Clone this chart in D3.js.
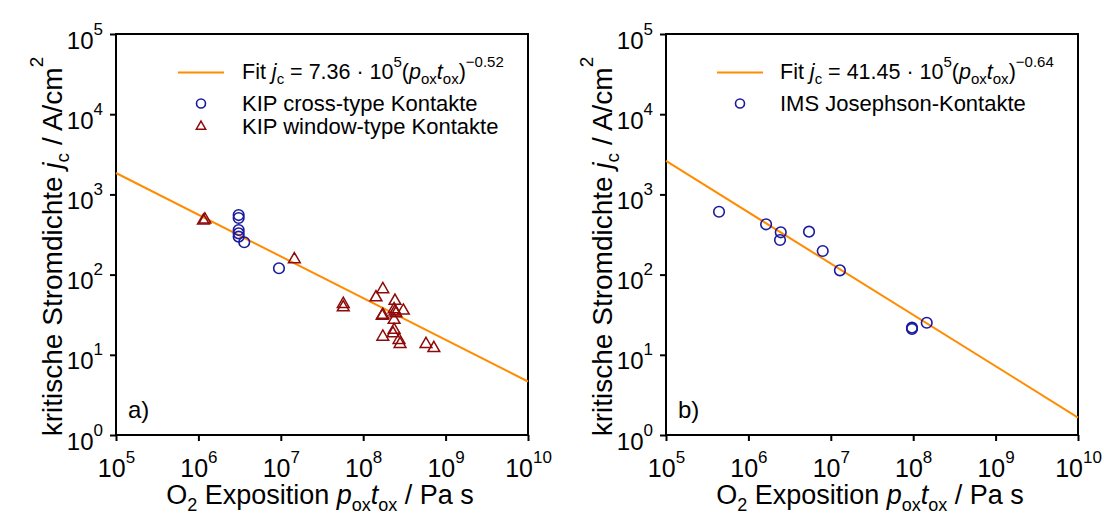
<!DOCTYPE html>
<html>
<head>
<meta charset="utf-8">
<script src="https://cdn.jsdelivr.net/npm/d3@7"></script>
<style>
  html, body { margin: 0; padding: 0; background: #fff; }
  svg { display: block; font-family: "Liberation Sans", Arial, sans-serif; }
</style>
</head>
<body>
<svg id="chart" width="1104" height="516"></svg>
<script>
// ---- data: O2 exposure (Pa s) vs. critical current density (A/cm^2) ----
const decadeTicks = [1e5, 1e6, 1e7, 1e8, 1e9, 1e10];
const yDecadeTicks = [1e0, 1e1, 1e2, 1e3, 1e4, 1e5];

// KIP cross-type junctions
const kipCrossX = [3.08e6, 3.08e6, 3.08e6, 3.08e6, 3.08e6, 3.6e6, 9.5e6];
const kipCrossY = [553, 508, 360, 327, 297, 253, 120];

// KIP window-type junctions
const kipWindowX = [1.15e6, 1.2e6, 1.46e7, 5.73e7, 5.73e7, 1.73e8, 1.43e8, 2.43e8, 3.07e8,
  1.73e8, 1.7e8, 2.37e8, 2.43e8, 2.5e8, 2.37e8, 1.73e8, 2.37e8, 2.3e8, 2.72e8, 2.8e8, 5.78e8, 7.2e8];
const kipWindowY = [470, 485, 155, 43, 39, 65.6, 52, 47, 35.5,
  31.4, 30.5, 36.9, 34.5, 32.9, 27.2, 16.8, 20.4, 18.5, 15.3, 13.6, 13.6, 12.1];

// IMS Josephson junctions
const imsX = [4.4e5, 1.64e6, 2.47e6, 2.42e6, 5.44e6, 7.98e6, 1.29e7, 9.67e7, 9.67e7, 1.46e8];
const imsY = [608, 424, 337, 270, 343, 197, 113, 21.8, 21.0, 25.1];

// power-law fits j_c = A * 10^5 * (p_ox t_ox)^k
const fitA = { prefactor: 7.36e5, exponent: -0.52 };
const fitB = { prefactor: 41.45e5, exponent: -0.64 };

// ---- drawing ----
const svg = d3.select("#chart");
const ORANGE = "#ff8c00", BLUE = "#1a1a9e", RED = "#8e0a0a";

// rich text: parts = [{t, i (italic), s: 'sub'|'sup'}]
function rich(textSel, parts, size, opts = {}) {
  const subSize = opts.subSize || size * 0.72;
  const supRaise = opts.supRaise != null ? opts.supRaise : size * 0.55;
  const subDrop = opts.subDrop != null ? opts.subDrop : size * 0.28;
  let cur = 0;
  parts.forEach(p => {
    let shift = 0, fs = size;
    if (p.s === "sup") { shift = -supRaise; fs = subSize; }
    if (p.s === "sub") { shift = subDrop; fs = subSize; }
    textSel.append("tspan")
      .attr("dy", shift - cur)
      .attr("font-size", fs)
      .attr("font-style", p.i ? "italic" : "normal")
      .text(p.t);
    cur = shift;
  });
  textSel.attr("font-size", size);
}

function panel(cfg) {
  const x = d3.scaleLog().domain([1e5, 1e10]).range([cfg.left, cfg.right]);
  const y = d3.scaleLog().domain([1, 1e5]).range([cfg.bottom, cfg.top]);
  const g = svg.append("g");

  // x axis ticks
  const xa = g.append("g").attr("transform", `translate(0,${cfg.bottom})`)
    .call(d3.axisBottom(x).tickValues(decadeTicks).tickSize(6).tickSizeOuter(0).tickFormat(""));
  xa.select(".domain").remove();
  xa.selectAll("line").attr("stroke", "#000").attr("stroke-width", 2);
  xa.selectAll(".tick").each(function (d) {
    const t = d3.select(this).append("text")
      .attr("y", 42).attr("text-anchor", "middle").attr("fill", "#000");
    rich(t, [{ t: "10" }, { t: String(Math.round(Math.log10(d))), s: "sup" }], 25,
      { subSize: 17, supRaise: 14 });
  });

  // y axis ticks
  const ya = g.append("g").attr("transform", `translate(${cfg.left},0)`)
    .call(d3.axisLeft(y).tickValues(yDecadeTicks).tickSize(6).tickSizeOuter(0).tickFormat(""));
  ya.select(".domain").remove();
  ya.selectAll("line").attr("stroke", "#000").attr("stroke-width", 2);
  ya.selectAll(".tick").each(function (d) {
    const t = d3.select(this).append("text")
      .attr("x", -13).attr("y", 14).attr("text-anchor", "end").attr("fill", "#000");
    rich(t, [{ t: "10" }, { t: String(Math.round(Math.log10(d))), s: "sup" }], 24,
      { subSize: 17, supRaise: 14 });
  });

  // frame
  g.append("rect")
    .attr("x", cfg.left).attr("y", cfg.top)
    .attr("width", cfg.right - cfg.left).attr("height", cfg.bottom - cfg.top)
    .attr("fill", "none").attr("stroke", "#000").attr("stroke-width", 2);

  // fit line
  const fitPts = x.domain().map(v => [v, cfg.fit.prefactor * Math.pow(v, cfg.fit.exponent)]);
  g.append("path")
    .datum(fitPts)
    .attr("d", d3.line().x(d => x(d[0])).y(d => y(d[1])))
    .attr("fill", "none").attr("stroke", ORANGE).attr("stroke-width", 2);

  // scatter series
  cfg.series.forEach(s => {
    const pts = s.xs.map((v, i) => [v, s.ys[i]]);
    if (s.shape === "circle") {
      g.append("g").selectAll("circle").data(pts).join("circle")
        .attr("cx", d => x(d[0])).attr("cy", d => y(d[1])).attr("r", 5.3)
        .attr("fill", "none").attr("stroke", s.color).attr("stroke-width", 1.6);
    } else {
      const tri = d3.symbol().type(d3.symbolTriangle).size(60);
      g.append("g").selectAll("path").data(pts).join("path")
        .attr("transform", d => `translate(${x(d[0])},${y(d[1])})`)
        .attr("d", tri)
        .attr("fill", "none").attr("stroke", s.color).attr("stroke-width", 1.5);
    }
  });

  // legend
  const lx = cfg.left + cfg.legLine, tx = cfg.left + cfg.legText;
  g.append("line").attr("x1", lx).attr("x2", lx + 46).attr("y1", 72.5).attr("y2", 72.5)
    .attr("stroke", ORANGE).attr("stroke-width", 2);
  const fitText = g.append("text").attr("x", tx).attr("y", 79).attr("fill", "#000");
  rich(fitText, [
    { t: "Fit " }, { t: "j", i: true }, { t: "c", s: "sub" },
    { t: " = " + cfg.fitLabel + " \u00b7 10" }, { t: "5", s: "sup" },
    { t: "(" }, { t: "p", i: true }, { t: "ox", s: "sub" },
    { t: "t", i: true }, { t: "ox", s: "sub" }, { t: ")" },
    { t: "\u2212" + cfg.fitExpLabel, s: "sup" }
  ], 21.5, { subSize: 15, supRaise: 12, subDrop: 5 });

  cfg.series.forEach((s, i) => {
    const cy = 103.5 + i * 23;
    const mx = lx + 23;
    if (s.shape === "circle") {
      g.append("circle").attr("cx", mx).attr("cy", cy).attr("r", 4.5)
        .attr("fill", "none").attr("stroke", s.color).attr("stroke-width", 1.6);
    } else {
      g.append("path").attr("transform", `translate(${mx},${cy})`)
        .attr("d", d3.symbol().type(d3.symbolTriangle).size(38))
        .attr("fill", "none").attr("stroke", s.color).attr("stroke-width", 1.5);
    }
    g.append("text").attr("x", tx).attr("y", cy + 7.5).attr("font-size", 22)
      .attr("fill", "#000").text(s.label);
  });

  // panel tag
  g.append("text").attr("x", cfg.left + 12).attr("y", cfg.bottom - 17)
    .attr("font-size", 24).attr("fill", "#000").text(cfg.tag);

  // axis titles
  const xt = g.append("text").attr("x", (cfg.left + cfg.right) / 2 - 2).attr("y", 504)
    .attr("text-anchor", "middle").attr("fill", "#000");
  rich(xt, [
    { t: "O" }, { t: "2", s: "sub" }, { t: " Exposition " },
    { t: "p", i: true }, { t: "ox", s: "sub" }, { t: "t", i: true }, { t: "ox", s: "sub" },
    { t: " / Pa s" }
  ], 27, { subSize: 18, subDrop: 7 });

  const yt = g.append("text")
    .attr("transform", `translate(${cfg.left - 54},${(cfg.top + cfg.bottom) / 2 + 12}) rotate(-90)`)
    .attr("text-anchor", "middle").attr("fill", "#000");
  rich(yt, [
    { t: "kritische Stromdichte " }, { t: "j", i: true }, { t: "c", s: "sub" },
    { t: " / A/cm" }, { t: "2", s: "sup" }
  ], 28, { subSize: 19, supRaise: 19, subDrop: 7 });
}

panel({
  left: 116, right: 528, top: 34, bottom: 435, tag: "a)",
  legLine: 62, legText: 126,
  fit: fitA, fitLabel: "7.36", fitExpLabel: "0.52",
  series: [
    { shape: "circle", xs: kipCrossX, ys: kipCrossY, color: BLUE, label: "KIP cross-type Kontakte" },
    { shape: "triangle", xs: kipWindowX, ys: kipWindowY, color: RED, label: "KIP window-type Kontakte" }
  ]
});

panel({
  left: 666, right: 1078, top: 34, bottom: 435, tag: "b)",
  legLine: 51, legText: 114,
  fit: fitB, fitLabel: "41.45", fitExpLabel: "0.64",
  series: [
    { shape: "circle", xs: imsX, ys: imsY, color: BLUE, label: "IMS Josephson-Kontakte" }
  ]
});
</script>
</body>
</html>
